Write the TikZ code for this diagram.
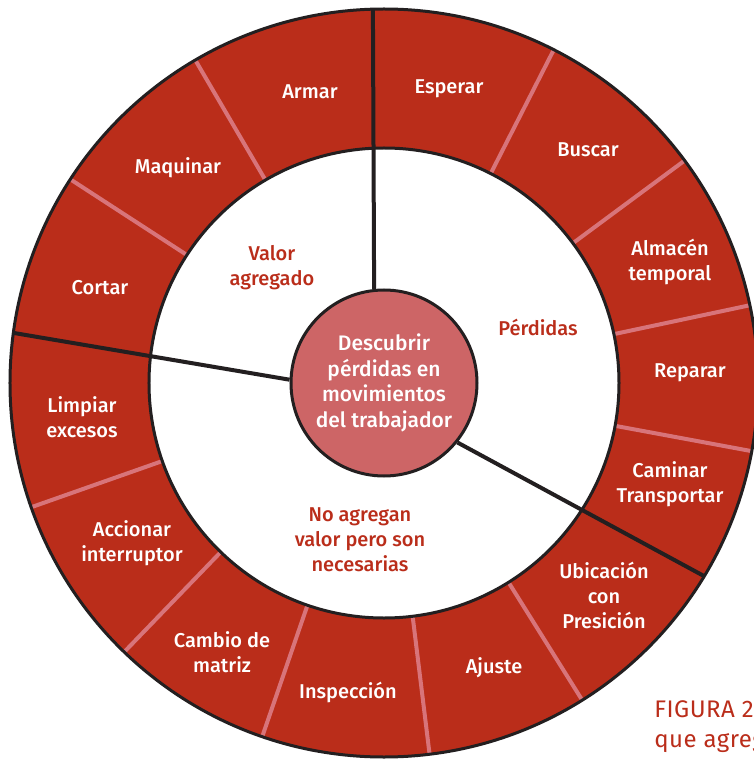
\documentclass[tikz,border=0pt]{standalone}
\usepackage{fontspec}
\setmainfont{Fira Sans}[UprightFont={* Medium}]
\newfontfamily\capfont{Fira Sans}[LetterSpace=2]
\usepackage{tikz}
\usetikzlibrary{positioning, calc}

\definecolor{ringred}{RGB}{186,45,26}
\definecolor{corefill}{RGB}{205,101,102}
\definecolor{segpink}{RGB}{216,116,122}
\definecolor{darkline}{RGB}{35,31,32}

\tikzset{
  ringlabel/.style={text=white, align=center, font=\fontsize{10}{12.5}\selectfont},
  zonelabel/.style={text=ringred, align=center, font=\fontsize{10}{12.5}\selectfont},
  segline/.style={draw=segpink, line width=2pt},
  sepline/.style={draw=darkline, line width=2pt},
  rimline/.style={draw=darkline, line width=1.5pt},
  caption/.style={anchor=base west, text=ringred, inner sep=0pt, font=\capfont\fontsize{12}{15}\selectfont}
}

\begin{document}
\begin{tikzpicture}[x=0.5pt, y=0.5pt]
\useasboundingbox (-384,-377) rectangle (370,383);

% Ring
\fill[ringred] (0,0) circle (374);
\fill[white] (0,0) circle (235);

% Segment dividers
\draw[segline] (120.3:235) -- (120.3:374);
\draw[segline] (147:235) -- (147:374);
\draw[segline] (63:235) -- (63:374);
\draw[segline] (36.5:235) -- (36.5:374);
\draw[segline] (12:235) -- (12:374);
\draw[segline] (-10.5:235) -- (-10.5:374);
\draw[segline] (-58:235) -- (-58:374);
\draw[segline] (-83:235) -- (-83:374);
\draw[segline] (-109:235) -- (-109:374);
\draw[segline] (-134:235) -- (-134:374);
\draw[segline] (-160.6:235) -- (-160.6:374);

\draw[rimline] (0,0) circle (374);
\draw[rimline] (0,0) circle (235);

% Core
\node[draw=darkline, line width=1.5pt, circle, fill=corefill, minimum size=93pt, inner sep=0pt,
      text=white, align=center, font=\fontsize{10.5}{12.8}\selectfont] (core) at (0,0)
      {Descubrir\\pérdidas en\\movimientos\\del trabajador};

% Zone borders
\coordinate (topend) at (91.7:374);
\coordinate (leftend) at (172.3:374);
\coordinate (rightend) at (-31.1:374);
\draw[sepline] (core.96.8) -- (topend);
\draw[sepline] (core.178.8) -- (leftend);
\draw[sepline] (core.-39) -- (rightend);

% Zones
\node[zonelabel] (valor) at (-112,115) {Valor\\agregado};
\node[zonelabel] (perdidas) at (154,56) {Pérdidas};
\node[zonelabel] (noagregan) at (-24,-157) {No agregan\\valor pero son\\necesarias};

% Valor agregado
\node[ringlabel] (armar) at (-74,291) {Armar};
\node[ringlabel] (maquinar) at (-206,215) {Maquinar};
\node[ringlabel] (cortar) at (-284,95) {Cortar};

% Perdidas
\node[ringlabel] (esperar) at (65,294) {Esperar};
\node[ringlabel] (buscar) at (204,233) {Buscar};
\node[ringlabel] (almacen) at (286,121) {Almacén\\temporal};
\node[ringlabel] (reparar) at (306,10) {Reparar};
\node[ringlabel] (caminar) at (286,-101) {Caminar\\Transportar};

% No agregan valor
\node[ringlabel] (ubicacion) at (220,-212) {Ubicación\\con\\Presición};
\node[ringlabel] (ajuste) at (110,-285) {Ajuste};
\node[ringlabel] (inspeccion) at (-36,-309) {Inspección};
\node[ringlabel] (cambio) at (-162,-269) {Cambio de\\matriz};
\node[ringlabel] (accionar) at (-252,-160) {Accionar\\interruptor};
\node[ringlabel] (limpiar) at (-302,-34) {Limpiar\\excesos};

% Caption
\node[caption] (figura) at (270,-334) {FIGURA 2};
\node[caption] (figcap) at (270,-364) {que agreg};
\end{tikzpicture}
\end{document}
